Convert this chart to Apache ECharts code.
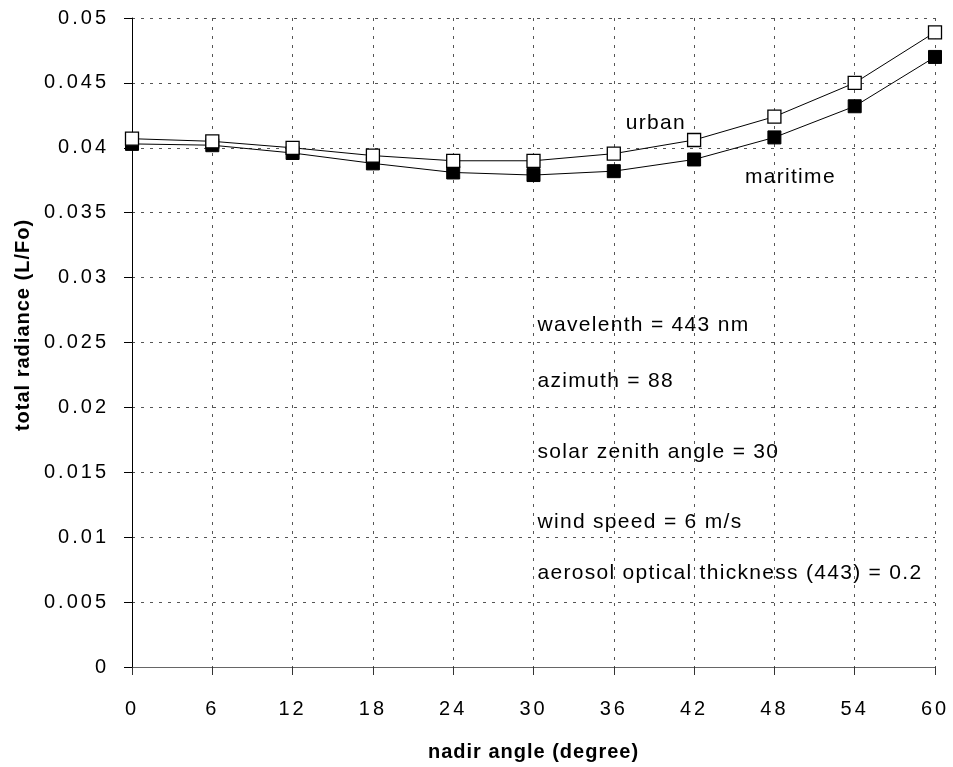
<!DOCTYPE html>
<html>
<head>
<meta charset="utf-8">
<script src="https://cdn.jsdelivr.net/npm/echarts@6/dist/echarts.min.js"></script>
<style>
  html, body { margin: 0; padding: 0; background: #fff; }
  #chart { width: 953px; height: 767px; }
</style>
</head>
<body>
<div id="chart"></div>
<script>
// Nadir angle (degrees) and total radiance (L/Fo) for two aerosol models
const nadirAngles = [0, 6, 12, 18, 24, 30, 36, 42, 48, 54, 60];
const urban    = [0.0407, 0.0405, 0.0400, 0.0394, 0.0390, 0.0390, 0.03955, 0.0406, 0.0424, 0.0450, 0.0489];
const maritime = [0.0403, 0.0402, 0.0396, 0.0388, 0.0381, 0.0379, 0.0382, 0.0391, 0.0408, 0.0432, 0.0470];
const yTickLabels = ['0', '0.005', '0.01', '0.015', '0.02', '0.025', '0.03', '0.035', '0.04', '0.045', '0.05'];
const seriesNames = ['urban', 'maritime'];
const notes = [
  'wavelenth = 443 nm',
  'azimuth = 88',
  'solar zenith angle = 30',
  'wind speed = 6 m/s',
  'aerosol optical thickness (443) = 0.2'
];
// Where the text annotations sit, in data units [angle, radiance]
const seriesLabelAt = [[36.9, 0.04192], [45.8, 0.03777]];
const noteX = 30.3;
const noteY = [0.02635, 0.02204, 0.01654, 0.01119, 0.00719];

// Letter spacing: bold titles slightly tracked, notes a little, tick numbers widely
function trackingFor(fontStr) {
  if (/bold/.test(fontStr)) return '1px';
  const m = /(\d+)px/.exec(fontStr);
  if (!m) return null;
  if (m[1] === '21') return '1.3px';
  if (m[1] === '20') return '3px';
  return null;
}
const nativeFillText = CanvasRenderingContext2D.prototype.fillText;
CanvasRenderingContext2D.prototype.fillText = function (text, x, y, maxWidth) {
  const spacing = trackingFor(this.font);
  const hasSpacing = spacing && 'letterSpacing' in this;
  const prev = this.letterSpacing;
  if (hasSpacing) this.letterSpacing = spacing;
  if (maxWidth === undefined) nativeFillText.call(this, text, x, y);
  else nativeFillText.call(this, text, x, y, maxWidth);
  if (hasSpacing) this.letterSpacing = prev;
};

const font = "'Liberation Sans', Arial, Helvetica, sans-serif";
const chart = echarts.init(document.getElementById('chart'), null, { renderer: 'canvas' });

const dashGrid = { show: true, lineStyle: { color: '#555', width: 1, type: [3, 6] } };

function pairs(ys) { return nadirAngles.map((x, i) => [x, ys[i]]); }

const annotations = seriesNames
  .map((name, i) => ({ value: seriesLabelAt[i], label: { formatter: name } }))
  .concat(notes.map((t, i) => ({ value: [noteX, noteY[i]], label: { formatter: t } })));

chart.setOption({
  animation: false,
  backgroundColor: '#fff',
  grid: { left: 132, right: 18, top: 18, bottom: 100, containLabel: false },
  xAxis: {
    type: 'value', min: 0, max: 60, interval: 6,
    name: 'nadir angle (degree)', nameLocation: 'middle', nameGap: 75,
    nameTextStyle: { fontFamily: font, fontWeight: 'bold', fontSize: 20, color: '#000' },
    axisLine: { show: true, onZero: false, lineStyle: { color: '#666', width: 1 } },
    axisTick: { show: true, inside: false, length: 8, lineStyle: { color: '#333' } },
    axisLabel: { fontFamily: font, fontSize: 20, color: '#000', margin: 32 },
    splitLine: dashGrid
  },
  yAxis: {
    type: 'value', min: 0, max: 0.05, interval: 0.005,
    axisLine: { show: true, lineStyle: { color: '#000', width: 1 } },
    axisTick: { show: true, inside: false, length: 8, lineStyle: { color: '#000' } },
    axisLabel: {
      fontFamily: font, fontSize: 20, color: '#000', margin: 23,
      formatter: (v) => yTickLabels[Math.round(v / 0.005)]
    },
    splitLine: dashGrid
  },
  graphic: [{
    type: 'text', x: 23, y: 325, rotation: Math.PI / 2,
    style: {
      text: 'total radiance (L/Fo)', fontFamily: font, fontWeight: 'bold', fontSize: 20,
      fill: '#000', align: 'center', verticalAlign: 'middle'
    }
  }],
  series: [
    {
      name: 'maritime', type: 'line', data: pairs(maritime), z: 3,
      symbol: 'rect', symbolSize: 13,
      lineStyle: { color: '#000', width: 1 },
      itemStyle: { color: '#000', borderColor: '#000', borderWidth: 1 }
    },
    {
      name: 'urban', type: 'line', data: pairs(urban), z: 4,
      symbol: 'rect', symbolSize: 13,
      lineStyle: { color: '#000', width: 1 },
      itemStyle: { color: '#fff', borderColor: '#000', borderWidth: 1.3 }
    },
    {
      name: 'annotations', type: 'scatter', symbolSize: 0, silent: true, z: 5,
      itemStyle: { opacity: 1 },
      data: annotations,
      label: {
        show: true, position: 'right', distance: 0,
        fontFamily: font, fontSize: 21, color: '#000', opacity: 1
      }
    }
  ]
});
</script>
</body>
</html>
